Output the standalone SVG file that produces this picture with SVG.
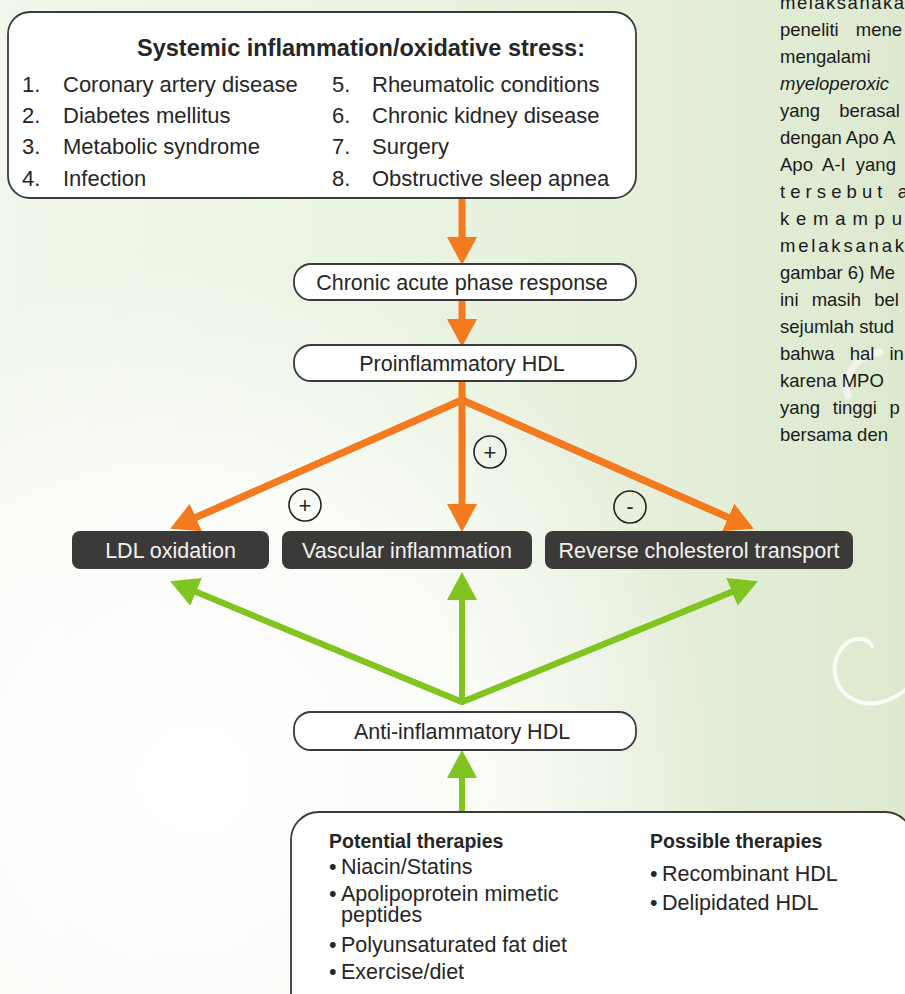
<svg xmlns="http://www.w3.org/2000/svg" width="905" height="994" viewBox="0 0 905 994">
  <defs>
    <linearGradient id="bg" x1="0" y1="0" x2="1" y2="0">
      <stop offset="0" stop-color="#f1f7ea"/>
      <stop offset="0.6" stop-color="#e8f1de"/>
      <stop offset="1" stop-color="#dde9cf"/>
    </linearGradient>
    <radialGradient id="glow" cx="200" cy="780" r="520" gradientUnits="userSpaceOnUse">
      <stop offset="0" stop-color="#ffffff" stop-opacity="1"/>
      <stop offset="0.55" stop-color="#ffffff" stop-opacity="0.75"/>
      <stop offset="1" stop-color="#ffffff" stop-opacity="0"/>
    </radialGradient>
    <marker id="headO" markerUnits="userSpaceOnUse" viewBox="0 0 28 30" refX="6" refY="15" markerWidth="28" markerHeight="30" orient="auto">
      <path d="M0,0 L28,15 L0,30 Z" fill="#f47a20"/>
    </marker>
    <marker id="headG" markerUnits="userSpaceOnUse" viewBox="0 0 28 30" refX="6" refY="15" markerWidth="28" markerHeight="30" orient="auto">
      <path d="M0,0 L28,15 L0,30 Z" fill="#7fc41f"/>
    </marker>
    <style>
      text { font-family: "Liberation Sans", Arial, sans-serif; fill: #262626; }
      .box { fill: #ffffff; stroke: #3a3a3a; stroke-width: 1.8; }
      .dark { fill: #3c3a38; }
      .lbl { font-size: 21.5px; text-anchor: middle; }
      .item { font-size: 22px; }
      .wlbl { font-size: 21.5px; text-anchor: middle; fill: #f2f2f2; }
      .bold { font-weight: bold; }
      .side { font-size: 18.5px; fill: #1a1a1a; }
      .or { fill: none; stroke: #f47a20; stroke-width: 7; stroke-linejoin: miter; }
      .gr { fill: none; stroke: #7fc41f; stroke-width: 6; stroke-linejoin: miter; }
      .sign { fill: none; stroke: #222222; stroke-width: 1.6; }
      .signt { font-size: 22px; text-anchor: middle; }
      .swirl { fill: none; stroke: #ffffff; stroke-linecap: round; }
    </style>
  </defs>

  <rect x="0" y="0" width="905" height="994" fill="url(#bg)"/>
  <rect x="0" y="0" width="905" height="994" fill="url(#glow)"/>
  <path class="swirl" d="M848 396 C842 375 856 356 880 352" stroke-width="7" opacity="0.55"/>
  <path class="swirl" d="M872 646 C866 636 852 636 842 648 C828 666 834 694 860 702 C878 707 895 698 905 690" stroke-width="4" opacity="0.85"/>

  <g id="side-text">
    <text class="side" x="780" y="9" textLength="124" lengthAdjust="spacing">melaksanaka</text>
    <text class="side" x="780" y="36" word-spacing="12">peneliti mene</text>
    <text class="side" x="780" y="63">mengalami</text>
    <text class="side" x="780" y="90" font-style="italic">myeloperoxic</text>
    <text class="side" x="780" y="117" word-spacing="14">yang berasal</text>
    <text class="side" x="780" y="144">dengan Apo A</text>
    <text class="side" x="780" y="171" word-spacing="5">Apo A-I yang</text>
    <text class="side" x="780" y="198" textLength="128" lengthAdjust="spacing">tersebut a</text>
    <text class="side" x="780" y="225" textLength="122" lengthAdjust="spacing">kemampu</text>
    <text class="side" x="780" y="252" textLength="124" lengthAdjust="spacing">melaksanak</text>
    <text class="side" x="780" y="279">gambar 6) Me</text>
    <text class="side" x="780" y="306" word-spacing="8">ini masih bel</text>
    <text class="side" x="780" y="333">sejumlah stud</text>
    <text class="side" x="780" y="360" word-spacing="10">bahwa hal in</text>
    <text class="side" x="780" y="387">karena MPO</text>
    <text class="side" x="780" y="414" word-spacing="7.5">yang tinggi p</text>
    <text class="side" x="780" y="441">bersama den</text>
  </g>

  <g id="connectors">
    <line class="or" x1="462" y1="198" x2="462" y2="243" marker-end="url(#headO)"/>
    <line class="or" x1="462" y1="300" x2="462" y2="325" marker-end="url(#headO)"/>
    <line class="or" x1="462" y1="381" x2="462" y2="510" marker-end="url(#headO)"/>
    <path class="or" d="M190.3,519.9 L462,400 L733.7,519.9"/>
    <line class="or" x1="462" y1="400" x2="190.3" y2="519.9" stroke="none" marker-end="url(#headO)"/>
    <line class="or" x1="462" y1="400" x2="733.7" y2="519.9" stroke="none" marker-end="url(#headO)"/>
    <line class="gr" x1="462" y1="812" x2="462" y2="772" marker-end="url(#headG)"/>
    <line class="gr" x1="462" y1="702" x2="462" y2="594" marker-end="url(#headG)"/>
    <path class="gr" d="M190.5,589.6 L462,702 L737.5,589.6"/>
    <line class="gr" x1="462" y1="702" x2="190.5" y2="589.6" stroke="none" marker-end="url(#headG)"/>
    <line class="gr" x1="462" y1="702" x2="737.5" y2="589.6" stroke="none" marker-end="url(#headG)"/>
  </g>

  <g id="signs">
    <g id="sign-plus-vascular">
      <circle class="sign" cx="490" cy="452" r="16"/>
      <text class="signt" x="490" y="460">+</text>
    </g>
    <g id="sign-plus-ldl">
      <circle class="sign" cx="305" cy="505" r="16"/>
      <text class="signt" x="305" y="513">+</text>
    </g>
    <g id="sign-minus-rct">
      <circle class="sign" cx="630" cy="507" r="16"/>
      <text class="signt" x="630" y="514">-</text>
    </g>
  </g>

  <g id="node-systemic">
    <rect class="box" x="8" y="12" width="628" height="186" rx="22"/>
    <text class="bold" x="137" y="56" font-size="23.5">Systemic inflammation/oxidative stress:</text>
    <text class="item" x="22" y="92">1.</text>
    <text class="item" x="63" y="92">Coronary artery disease</text>
    <text class="item" x="22" y="123">2.</text>
    <text class="item" x="63" y="123">Diabetes mellitus</text>
    <text class="item" x="22" y="154">3.</text>
    <text class="item" x="63" y="154">Metabolic syndrome</text>
    <text class="item" x="22" y="186">4.</text>
    <text class="item" x="63" y="186">Infection</text>
    <text class="item" x="332" y="92">5.</text>
    <text class="item" x="372" y="92">Rheumatolic conditions</text>
    <text class="item" x="332" y="123">6.</text>
    <text class="item" x="372" y="123">Chronic kidney disease</text>
    <text class="item" x="332" y="154">7.</text>
    <text class="item" x="372" y="154">Surgery</text>
    <text class="item" x="332" y="186">8.</text>
    <text class="item" x="372" y="186">Obstructive sleep apnea</text>
  </g>

  <g id="node-chronic">
    <rect class="box" x="294" y="264" width="342" height="36" rx="17"/>
    <text class="lbl" x="462" y="290">Chronic acute phase response</text>
  </g>

  <g id="node-proinflammatory">
    <rect class="box" x="294" y="345" width="342" height="36" rx="17"/>
    <text class="lbl" x="462" y="371">Proinflammatory HDL</text>
  </g>

  <g id="node-ldl">
    <rect class="dark" x="72" y="531" width="197" height="38" rx="8"/>
    <text class="wlbl" x="170.5" y="558">LDL oxidation</text>
  </g>

  <g id="node-vascular">
    <rect class="dark" x="282" y="531" width="250" height="38" rx="8"/>
    <text class="wlbl" x="407" y="558">Vascular inflammation</text>
  </g>

  <g id="node-rct">
    <rect class="dark" x="545" y="531" width="308" height="38" rx="8"/>
    <text class="wlbl" x="699" y="558">Reverse cholesterol transport</text>
  </g>

  <g id="node-anti">
    <rect class="box" x="294" y="712" width="342" height="38" rx="17"/>
    <text class="lbl" x="462" y="739">Anti-inflammatory HDL</text>
  </g>

  <g id="node-therapies">
    <rect class="box" x="291" y="812" width="622" height="210" rx="28"/>
    <text class="bold" x="329" y="848" font-size="19.5">Potential therapies</text>
    <text x="329" y="874" font-size="21.5">•</text>
    <text x="341" y="874" font-size="21.5">Niacin/Statins</text>
    <text x="329" y="901" font-size="21.5">•</text>
    <text x="341" y="901" font-size="21.5">Apolipoprotein mimetic</text>
    <text x="341" y="922" font-size="21.5">peptides</text>
    <text x="329" y="952" font-size="21.5">•</text>
    <text x="341" y="952" font-size="21.5">Polyunsaturated fat diet</text>
    <text x="329" y="979" font-size="21.5">•</text>
    <text x="341" y="979" font-size="21.5">Exercise/diet</text>
    <text class="bold" x="650" y="848" font-size="19.5">Possible therapies</text>
    <text x="650" y="881" font-size="21.5">•</text>
    <text x="662" y="881" font-size="21.5">Recombinant HDL</text>
    <text x="650" y="910" font-size="21.5">•</text>
    <text x="662" y="910" font-size="21.5">Delipidated HDL</text>
  </g>
</svg>
